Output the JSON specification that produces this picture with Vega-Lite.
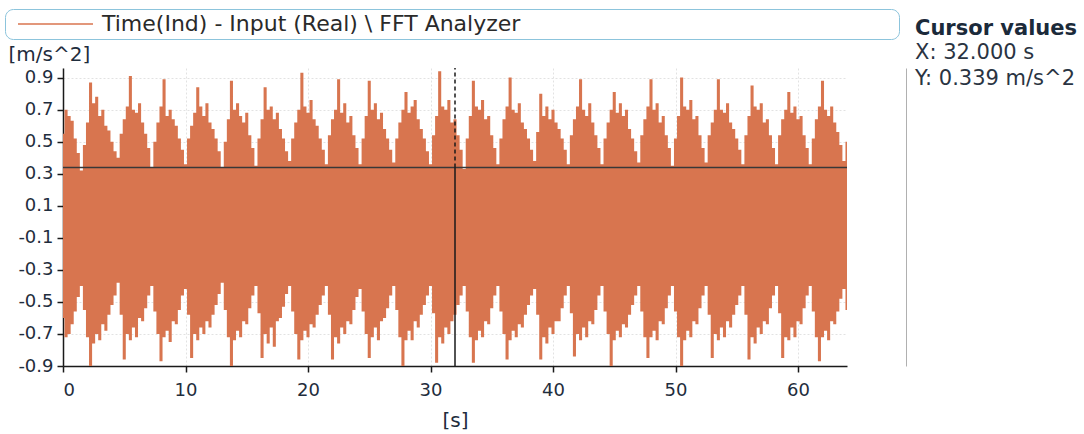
{
  "$schema": "https://vega.github.io/schema/vega-lite/v6.json",
  "autosize": {"type": "none"},
  "padding": {"left": 63, "top": 68, "right": 237, "bottom": 68},
  "width": 784,
  "height": 298,
  "background": "white",
  "config": {
    "font": "DejaVu Sans",
    "view": {"stroke": null},
    "title": {"font": "DejaVu Sans", "subtitleFont": "DejaVu Sans"}
  },
  "title": {
    "text": "Cursor values",
    "subtitle": ["X: 32.000 s", "Y: 0.339 m/s^2"],
    "orient": "top",
    "anchor": "start",
    "frame": "group",
    "dx": 852,
    "dy": 80,
    "offset": 0,
    "fontSize": 21,
    "fontWeight": "bold",
    "color": "#1b2a3a",
    "subtitleFontSize": 21,
    "subtitleColor": "#2a3442",
    "subtitlePadding": 3,
    "subtitleLineHeight": 26
  },
  "datasets": {
    "signal": [
      {"t":0,"hi":0.55,"lo":-0.60},{"t":0.25,"hi":0.70,"lo":-0.72},{"t":0.5,"hi":0.66,"lo":-0.70},{"t":0.75,"hi":0.63,"lo":-0.64},{"t":1,"hi":0.52,"lo":-0.56},{"t":1.25,"hi":0.43,"lo":-0.47},
      {"t":1.5,"hi":0.32,"lo":-0.40},{"t":1.75,"hi":0.48,"lo":-0.55},{"t":2,"hi":0.62,"lo":-0.72},{"t":2.25,"hi":0.87,"lo":-0.90},{"t":2.5,"hi":0.74,"lo":-0.76},{"t":2.75,"hi":0.78,"lo":-0.70},{"t":3,"hi":0.66,"lo":-0.74},{"t":3.25,"hi":0.70,"lo":-0.64},{"t":3.5,"hi":0.60,"lo":-0.68},{"t":3.75,"hi":0.57,"lo":-0.58},{"t":4,"hi":0.50,"lo":-0.52},{"t":4.25,"hi":0.44,"lo":-0.46},
      {"t":4.5,"hi":0.40,"lo":-0.38},{"t":4.75,"hi":0.55,"lo":-0.58},{"t":5,"hi":0.64,"lo":-0.86},{"t":5.25,"hi":0.72,"lo":-0.70},{"t":5.5,"hi":0.91,"lo":-0.74},{"t":5.75,"hi":0.70,"lo":-0.66},{"t":6,"hi":0.68,"lo":-0.72},{"t":6.25,"hi":0.74,"lo":-0.60},{"t":6.5,"hi":0.62,"lo":-0.62},{"t":6.75,"hi":0.55,"lo":-0.54},{"t":7,"hi":0.46,"lo":-0.46},
      {"t":7.25,"hi":0.34,"lo":-0.40},{"t":7.5,"hi":0.50,"lo":-0.56},{"t":7.75,"hi":0.62,"lo":-0.70},{"t":8,"hi":0.72,"lo":-0.87},{"t":8.25,"hi":0.89,"lo":-0.72},{"t":8.5,"hi":0.66,"lo":-0.68},{"t":8.75,"hi":0.70,"lo":-0.75},{"t":9,"hi":0.64,"lo":-0.62},{"t":9.25,"hi":0.60,"lo":-0.64},{"t":9.5,"hi":0.52,"lo":-0.55},{"t":9.75,"hi":0.45,"lo":-0.46},
      {"t":10,"hi":0.36,"lo":-0.42},{"t":10.25,"hi":0.52,"lo":-0.58},{"t":10.5,"hi":0.60,"lo":-0.85},{"t":10.75,"hi":0.68,"lo":-0.70},{"t":11,"hi":0.84,"lo":-0.74},{"t":11.25,"hi":0.72,"lo":-0.66},{"t":11.5,"hi":0.66,"lo":-0.70},{"t":11.75,"hi":0.74,"lo":-0.62},{"t":12,"hi":0.62,"lo":-0.66},{"t":12.25,"hi":0.58,"lo":-0.58},{"t":12.5,"hi":0.52,"lo":-0.52},{"t":12.75,"hi":0.44,"lo":-0.45},
      {"t":13,"hi":0.34,"lo":-0.38},{"t":13.25,"hi":0.50,"lo":-0.55},{"t":13.5,"hi":0.64,"lo":-0.72},{"t":13.75,"hi":0.88,"lo":-0.90},{"t":14,"hi":0.70,"lo":-0.74},{"t":14.25,"hi":0.74,"lo":-0.68},{"t":14.5,"hi":0.66,"lo":-0.72},{"t":14.75,"hi":0.62,"lo":-0.62},{"t":15,"hi":0.68,"lo":-0.64},{"t":15.25,"hi":0.54,"lo":-0.54},{"t":15.5,"hi":0.46,"lo":-0.46},
      {"t":15.75,"hi":0.35,"lo":-0.40},{"t":16,"hi":0.52,"lo":-0.57},{"t":16.25,"hi":0.64,"lo":-0.85},{"t":16.5,"hi":0.84,"lo":-0.70},{"t":16.75,"hi":0.70,"lo":-0.76},{"t":17,"hi":0.72,"lo":-0.66},{"t":17.25,"hi":0.64,"lo":-0.78},{"t":17.5,"hi":0.68,"lo":-0.62},{"t":17.75,"hi":0.58,"lo":-0.60},{"t":18,"hi":0.52,"lo":-0.53},{"t":18.25,"hi":0.44,"lo":-0.45},
      {"t":18.5,"hi":0.38,"lo":-0.40},{"t":18.75,"hi":0.52,"lo":-0.56},{"t":19,"hi":0.62,"lo":-0.70},{"t":19.25,"hi":0.70,"lo":-0.86},{"t":19.5,"hi":0.93,"lo":-0.74},{"t":19.75,"hi":0.72,"lo":-0.68},{"t":20,"hi":0.68,"lo":-0.72},{"t":20.25,"hi":0.76,"lo":-0.64},{"t":20.5,"hi":0.64,"lo":-0.66},{"t":20.75,"hi":0.60,"lo":-0.58},{"t":21,"hi":0.52,"lo":-0.52},{"t":21.25,"hi":0.45,"lo":-0.46},
      {"t":21.5,"hi":0.36,"lo":-0.40},{"t":21.75,"hi":0.54,"lo":-0.58},{"t":22,"hi":0.64,"lo":-0.86},{"t":22.25,"hi":0.70,"lo":-0.72},{"t":22.5,"hi":0.89,"lo":-0.76},{"t":22.75,"hi":0.68,"lo":-0.66},{"t":23,"hi":0.74,"lo":-0.70},{"t":23.25,"hi":0.62,"lo":-0.62},{"t":23.5,"hi":0.66,"lo":-0.64},{"t":23.75,"hi":0.54,"lo":-0.55},{"t":24,"hi":0.46,"lo":-0.47},
      {"t":24.25,"hi":0.36,"lo":-0.42},{"t":24.5,"hi":0.52,"lo":-0.56},{"t":24.75,"hi":0.66,"lo":-0.70},{"t":25,"hi":0.88,"lo":-0.85},{"t":25.25,"hi":0.70,"lo":-0.72},{"t":25.5,"hi":0.74,"lo":-0.66},{"t":25.75,"hi":0.64,"lo":-0.74},{"t":26,"hi":0.68,"lo":-0.62},{"t":26.25,"hi":0.58,"lo":-0.60},{"t":26.5,"hi":0.52,"lo":-0.54},{"t":26.75,"hi":0.45,"lo":-0.46},
      {"t":27,"hi":0.37,"lo":-0.40},{"t":27.25,"hi":0.52,"lo":-0.55},{"t":27.5,"hi":0.62,"lo":-0.72},{"t":27.75,"hi":0.70,"lo":-0.91},{"t":28,"hi":0.81,"lo":-0.74},{"t":28.25,"hi":0.68,"lo":-0.68},{"t":28.5,"hi":0.72,"lo":-0.74},{"t":28.75,"hi":0.76,"lo":-0.62},{"t":29,"hi":0.64,"lo":-0.66},{"t":29.25,"hi":0.58,"lo":-0.58},{"t":29.5,"hi":0.52,"lo":-0.52},{"t":29.75,"hi":0.44,"lo":-0.46},
      {"t":30,"hi":0.36,"lo":-0.40},{"t":30.25,"hi":0.54,"lo":-0.57},{"t":30.5,"hi":0.66,"lo":-0.88},{"t":30.75,"hi":0.94,"lo":-0.72},{"t":31,"hi":0.72,"lo":-0.76},{"t":31.25,"hi":0.70,"lo":-0.66},{"t":31.5,"hi":0.76,"lo":-0.70},{"t":31.75,"hi":0.62,"lo":-0.62},{"t":32,"hi":0.64,"lo":-0.58},{"t":32.25,"hi":0.54,"lo":-0.52},{"t":32.5,"hi":0.45,"lo":-0.46},
      {"t":32.75,"hi":0.33,"lo":-0.40},{"t":33,"hi":0.52,"lo":-0.56},{"t":33.25,"hi":0.66,"lo":-0.72},{"t":33.5,"hi":0.88,"lo":-0.88},{"t":33.75,"hi":0.72,"lo":-0.74},{"t":34,"hi":0.70,"lo":-0.68},{"t":34.25,"hi":0.76,"lo":-0.72},{"t":34.5,"hi":0.64,"lo":-0.62},{"t":34.75,"hi":0.66,"lo":-0.64},{"t":35,"hi":0.54,"lo":-0.54},{"t":35.25,"hi":0.46,"lo":-0.46},
      {"t":35.5,"hi":0.36,"lo":-0.40},{"t":35.75,"hi":0.52,"lo":-0.56},{"t":36,"hi":0.64,"lo":-0.70},{"t":36.25,"hi":0.72,"lo":-0.86},{"t":36.5,"hi":0.90,"lo":-0.74},{"t":36.75,"hi":0.70,"lo":-0.68},{"t":37,"hi":0.68,"lo":-0.72},{"t":37.25,"hi":0.74,"lo":-0.64},{"t":37.5,"hi":0.62,"lo":-0.66},{"t":37.75,"hi":0.58,"lo":-0.58},{"t":38,"hi":0.52,"lo":-0.52},{"t":38.25,"hi":0.45,"lo":-0.46},
      {"t":38.5,"hi":0.38,"lo":-0.42},{"t":38.75,"hi":0.56,"lo":-0.58},{"t":39,"hi":0.80,"lo":-0.86},{"t":39.25,"hi":0.66,"lo":-0.72},{"t":39.5,"hi":0.72,"lo":-0.76},{"t":39.75,"hi":0.64,"lo":-0.66},{"t":40,"hi":0.70,"lo":-0.70},{"t":40.25,"hi":0.62,"lo":-0.62},{"t":40.5,"hi":0.58,"lo":-0.62},{"t":40.75,"hi":0.52,"lo":-0.54},{"t":41,"hi":0.45,"lo":-0.46},
      {"t":41.25,"hi":0.36,"lo":-0.40},{"t":41.5,"hi":0.54,"lo":-0.57},{"t":41.75,"hi":0.64,"lo":-0.84},{"t":42,"hi":0.72,"lo":-0.70},{"t":42.25,"hi":0.89,"lo":-0.74},{"t":42.5,"hi":0.70,"lo":-0.66},{"t":42.75,"hi":0.66,"lo":-0.72},{"t":43,"hi":0.74,"lo":-0.62},{"t":43.25,"hi":0.62,"lo":-0.64},{"t":43.5,"hi":0.54,"lo":-0.55},{"t":43.75,"hi":0.46,"lo":-0.46},
      {"t":44,"hi":0.36,"lo":-0.40},{"t":44.25,"hi":0.52,"lo":-0.56},{"t":44.5,"hi":0.62,"lo":-0.70},{"t":44.75,"hi":0.70,"lo":-0.90},{"t":45,"hi":0.81,"lo":-0.74},{"t":45.25,"hi":0.68,"lo":-0.68},{"t":45.5,"hi":0.74,"lo":-0.72},{"t":45.75,"hi":0.66,"lo":-0.64},{"t":46,"hi":0.70,"lo":-0.66},{"t":46.25,"hi":0.58,"lo":-0.58},{"t":46.5,"hi":0.52,"lo":-0.52},{"t":46.75,"hi":0.44,"lo":-0.46},
      {"t":47,"hi":0.37,"lo":-0.40},{"t":47.25,"hi":0.54,"lo":-0.56},{"t":47.5,"hi":0.64,"lo":-0.72},{"t":47.75,"hi":0.72,"lo":-0.85},{"t":48,"hi":0.89,"lo":-0.72},{"t":48.25,"hi":0.70,"lo":-0.68},{"t":48.5,"hi":0.74,"lo":-0.74},{"t":48.75,"hi":0.62,"lo":-0.62},{"t":49,"hi":0.66,"lo":-0.64},{"t":49.25,"hi":0.54,"lo":-0.54},{"t":49.5,"hi":0.46,"lo":-0.46},
      {"t":49.75,"hi":0.35,"lo":-0.40},{"t":50,"hi":0.52,"lo":-0.56},{"t":50.25,"hi":0.66,"lo":-0.72},{"t":50.5,"hi":0.90,"lo":-0.92},{"t":50.75,"hi":0.72,"lo":-0.74},{"t":51,"hi":0.70,"lo":-0.68},{"t":51.25,"hi":0.76,"lo":-0.72},{"t":51.5,"hi":0.64,"lo":-0.62},{"t":51.75,"hi":0.66,"lo":-0.64},{"t":52,"hi":0.54,"lo":-0.54},{"t":52.25,"hi":0.46,"lo":-0.46},
      {"t":52.5,"hi":0.37,"lo":-0.40},{"t":52.75,"hi":0.54,"lo":-0.58},{"t":53,"hi":0.62,"lo":-0.85},{"t":53.25,"hi":0.70,"lo":-0.70},{"t":53.5,"hi":0.89,"lo":-0.74},{"t":53.75,"hi":0.70,"lo":-0.66},{"t":54,"hi":0.68,"lo":-0.72},{"t":54.25,"hi":0.74,"lo":-0.62},{"t":54.5,"hi":0.62,"lo":-0.66},{"t":54.75,"hi":0.58,"lo":-0.58},{"t":55,"hi":0.52,"lo":-0.52},{"t":55.25,"hi":0.45,"lo":-0.46},
      {"t":55.5,"hi":0.36,"lo":-0.40},{"t":55.75,"hi":0.54,"lo":-0.58},{"t":56,"hi":0.66,"lo":-0.86},{"t":56.25,"hi":0.85,"lo":-0.72},{"t":56.5,"hi":0.72,"lo":-0.76},{"t":56.75,"hi":0.70,"lo":-0.66},{"t":57,"hi":0.74,"lo":-0.70},{"t":57.25,"hi":0.62,"lo":-0.62},{"t":57.5,"hi":0.64,"lo":-0.64},{"t":57.75,"hi":0.54,"lo":-0.54},{"t":58,"hi":0.46,"lo":-0.46},
      {"t":58.25,"hi":0.36,"lo":-0.40},{"t":58.5,"hi":0.54,"lo":-0.57},{"t":58.75,"hi":0.64,"lo":-0.85},{"t":59,"hi":0.70,"lo":-0.72},{"t":59.25,"hi":0.81,"lo":-0.74},{"t":59.5,"hi":0.68,"lo":-0.66},{"t":59.75,"hi":0.72,"lo":-0.72},{"t":60,"hi":0.64,"lo":-0.62},{"t":60.25,"hi":0.66,"lo":-0.64},{"t":60.5,"hi":0.54,"lo":-0.54},{"t":60.75,"hi":0.46,"lo":-0.46},
      {"t":61,"hi":0.36,"lo":-0.40},{"t":61.25,"hi":0.52,"lo":-0.56},{"t":61.5,"hi":0.64,"lo":-0.72},{"t":61.75,"hi":0.72,"lo":-0.87},{"t":62,"hi":0.88,"lo":-0.72},{"t":62.25,"hi":0.70,"lo":-0.68},{"t":62.5,"hi":0.66,"lo":-0.74},{"t":62.75,"hi":0.72,"lo":-0.62},{"t":63,"hi":0.62,"lo":-0.64},{"t":63.25,"hi":0.56,"lo":-0.56},{"t":63.5,"hi":0.48,"lo":-0.48},
      {"t":63.75,"hi":0.38,"lo":-0.42},{"t":64,"hi":0.50,"lo":-0.55}
    ],
    "cursor": [{"x": 32, "y": 0.339}]
  },
  "resolve": {"axis": {"y": "independent"}},
  "layer": [
    {
      "data": {"name": "signal"},
      "mark": {"type": "area", "interpolate": "step", "color": "#d8754f", "clip": true},
      "encoding": {
        "x": {
          "field": "t", "type": "quantitative", "title": "[s]",
          "scale": {"domain": [0, 64], "nice": false, "zero": false},
          "axis": {
            "values": [0, 10, 20, 30, 40, 50, 60],
            "labelFontSize": 18, "labelColor": "#1f2d3d", "labelPadding": 9,
            "tickSize": 6, "tickColor": "#1a1a1a", "tickWidth": 1.5,
            "domainColor": "#1a1a1a", "domainWidth": 1.5,
            "grid": true, "gridColor": "#e2e2e2", "gridDash": [2, 2],
            "titleFontSize": 20, "titleFontWeight": "normal", "titleColor": "#1f2d3d", "titlePadding": 11
          }
        },
        "y": {
          "field": "hi", "type": "quantitative", "title": "[m/s^2]",
          "scale": {"domain": [-0.9, 0.96], "nice": false, "zero": false},
          "axis": {
            "orient": "left",
            "values": [-0.9, -0.7, -0.5, -0.3, -0.1, 0.1, 0.3, 0.5, 0.7, 0.9],
            "labelOverlap": false,
            "labelExpr": "datum.value < 0 ? '-' + format(-datum.value, '.1f') : format(datum.value, '.1f')",
            "labelFontSize": 18, "labelColor": "#1f2d3d", "labelPadding": 4,
            "tickSize": 6, "tickColor": "#1a1a1a", "tickWidth": 1.5,
            "domainColor": "#1a1a1a", "domainWidth": 1.5,
            "grid": true, "gridColor": "#e2e2e2", "gridDash": [2, 2],
            "titleAngle": 0, "titleAlign": "left", "titleBaseline": "middle",
            "titleX": -55, "titleY": -14, "titleFontSize": 20, "titleFontWeight": "normal", "titleColor": "#1f2d3d"
          }
        },
        "y2": {"field": "lo"},
        "color": {
          "datum": "Time(Ind) - Input (Real) \\ FFT Analyzer", "type": "nominal",
          "scale": {"range": ["#d8754f"]},
          "legend": {
            "orient": "none", "legendX": -58, "legendY": -59,
            "title": null,
            "strokeColor": "#8cc4dc", "cornerRadius": 8, "padding": 4, "fillColor": "white",
            "labelFont": "DejaVu Sans", "labelFontSize": 22, "labelColor": "#2a2a2a", "labelLimit": 2000,
            "labelOffset": 71,
            "labelExpr": "datum.label + '\u2003\u2003\u2003\u2003\u2003\u2003\u2003\u2003\u2003\u2003\u2003\u2003\u2003\u2003\u2003\u2003\u2003\u200b'",
            "symbolType": "M-2,0H73", "symbolSize": 4, "symbolStrokeWidth": 1.5,
            "symbolStrokeColor": "#d8754f"
          }
        }
      }
    },
    {
      "data": {"name": "cursor"},
      "mark": {"type": "rule", "color": "#383838", "strokeWidth": 1.5},
      "encoding": {
        "y": {
          "field": "y", "type": "quantitative", "title": null,
          "axis": {"orient": "right", "offset": 59, "ticks": false, "labels": false, "grid": false, "title": null, "domainColor": "#b0b0b0", "domainWidth": 1}
        }
      }
    },
    {
      "data": {"name": "cursor"},
      "mark": {"type": "rule", "color": "#1a1a1a", "strokeWidth": 1.5},
      "encoding": {
        "x": {"field": "x", "type": "quantitative", "title": "[s]"},
        "y": {"field": "y", "type": "quantitative", "axis": null},
        "y2": {"datum": -0.9}
      }
    },
    {
      "data": {"name": "cursor"},
      "mark": {"type": "rule", "color": "#1a1a1a", "strokeWidth": 1.5, "strokeDash": [4, 3]},
      "encoding": {
        "x": {"field": "x", "type": "quantitative", "title": "[s]"},
        "y": {"field": "y", "type": "quantitative", "axis": null},
        "y2": {"datum": 0.96}
      }
    }
  ]
}
